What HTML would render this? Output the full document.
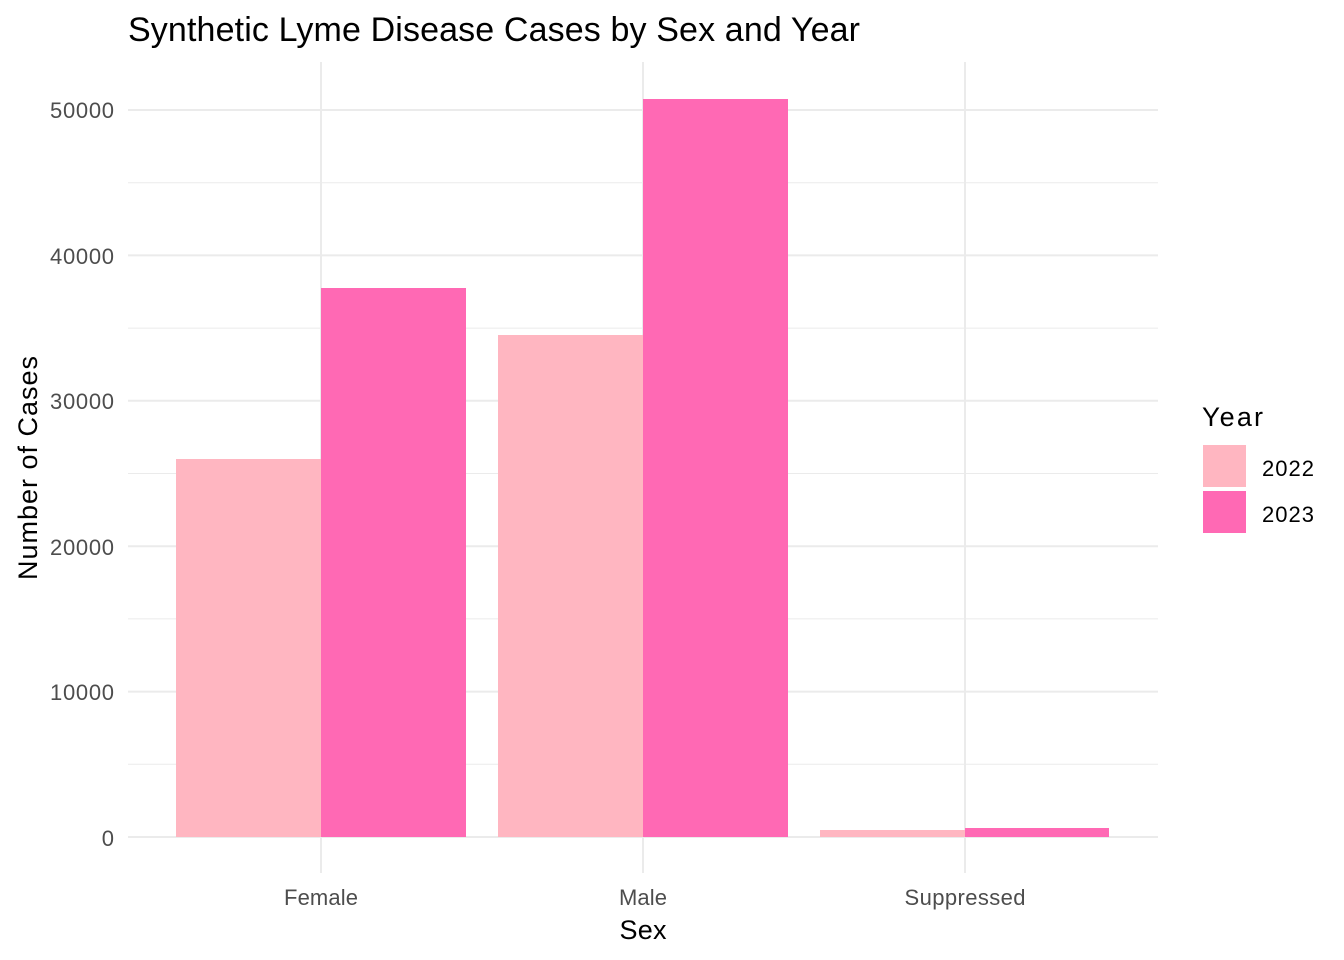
<!DOCTYPE html>
<html><head><meta charset="utf-8"><style>body{margin:0;background:#fff}svg{display:block}</style></head>
<body>
<svg width="1344" height="960" xmlns="http://www.w3.org/2000/svg" font-family="Liberation Sans, Arial, sans-serif">
<rect width="1344" height="960" fill="#fff"/>
<g stroke="#ebebeb" stroke-width="1">
<line x1="128" x2="1158" y1="764.3" y2="764.3"/><line x1="128" x2="1158" y1="618.9" y2="618.9"/>
<line x1="128" x2="1158" y1="473.5" y2="473.5"/><line x1="128" x2="1158" y1="328.1" y2="328.1"/>
<line x1="128" x2="1158" y1="182.7" y2="182.7"/>
</g>
<g stroke="#ebebeb" stroke-width="2">
<line x1="128" x2="1158" y1="837" y2="837"/><line x1="128" x2="1158" y1="691.6" y2="691.6"/>
<line x1="128" x2="1158" y1="546.2" y2="546.2"/><line x1="128" x2="1158" y1="400.8" y2="400.8"/>
<line x1="128" x2="1158" y1="255.4" y2="255.4"/><line x1="128" x2="1158" y1="110" y2="110"/>
<line x1="321" x2="321" y1="62" y2="873"/><line x1="643" x2="643" y1="62" y2="873"/><line x1="965" x2="965" y1="62" y2="873"/>
</g>
<rect x="176" y="459" width="145" height="378" fill="#FFB6C1"/>
<rect x="321" y="288" width="145" height="549" fill="#FF69B4"/>
<rect x="498" y="335" width="145" height="502" fill="#FFB6C1"/>
<rect x="643" y="99" width="145" height="738" fill="#FF69B4"/>
<rect x="820" y="830" width="145" height="7" fill="#FFB6C1"/>
<rect x="965" y="828" width="144" height="9" fill="#FF69B4"/>
<g font-size="22" fill="#4d4d4d" text-anchor="end">
<text x="114" y="846">0</text><text x="114" y="700" textLength="64">10000</text><text x="114" y="555" textLength="64">20000</text>
<text x="114" y="409" textLength="64">30000</text><text x="114" y="264" textLength="64">40000</text><text x="114" y="118" textLength="64">50000</text>
</g>
<g font-size="22" fill="#4d4d4d" text-anchor="middle">
<text x="321" y="905" textLength="74">Female</text><text x="643" y="905" textLength="48">Male</text><text x="965" y="905" textLength="121">Suppressed</text>
</g>
<text x="643" y="939" font-size="27" text-anchor="middle" textLength="47">Sex</text>
<text transform="translate(37,468) rotate(-90)" font-size="27" text-anchor="middle" textLength="224">Number of Cases</text>
<text x="128" y="41" font-size="34" textLength="732">Synthetic Lyme Disease Cases by Sex and Year</text>
<text x="1202" y="426" font-size="27" textLength="61">Year</text>
<rect x="1203" y="445" width="43" height="42" fill="#FFB6C1"/>
<rect x="1203" y="491" width="43" height="42" fill="#FF69B4"/>
<text x="1262" y="476" font-size="22" textLength="52">2022</text>
<text x="1262" y="522" font-size="22" textLength="52">2023</text>
</svg>
</body></html>
